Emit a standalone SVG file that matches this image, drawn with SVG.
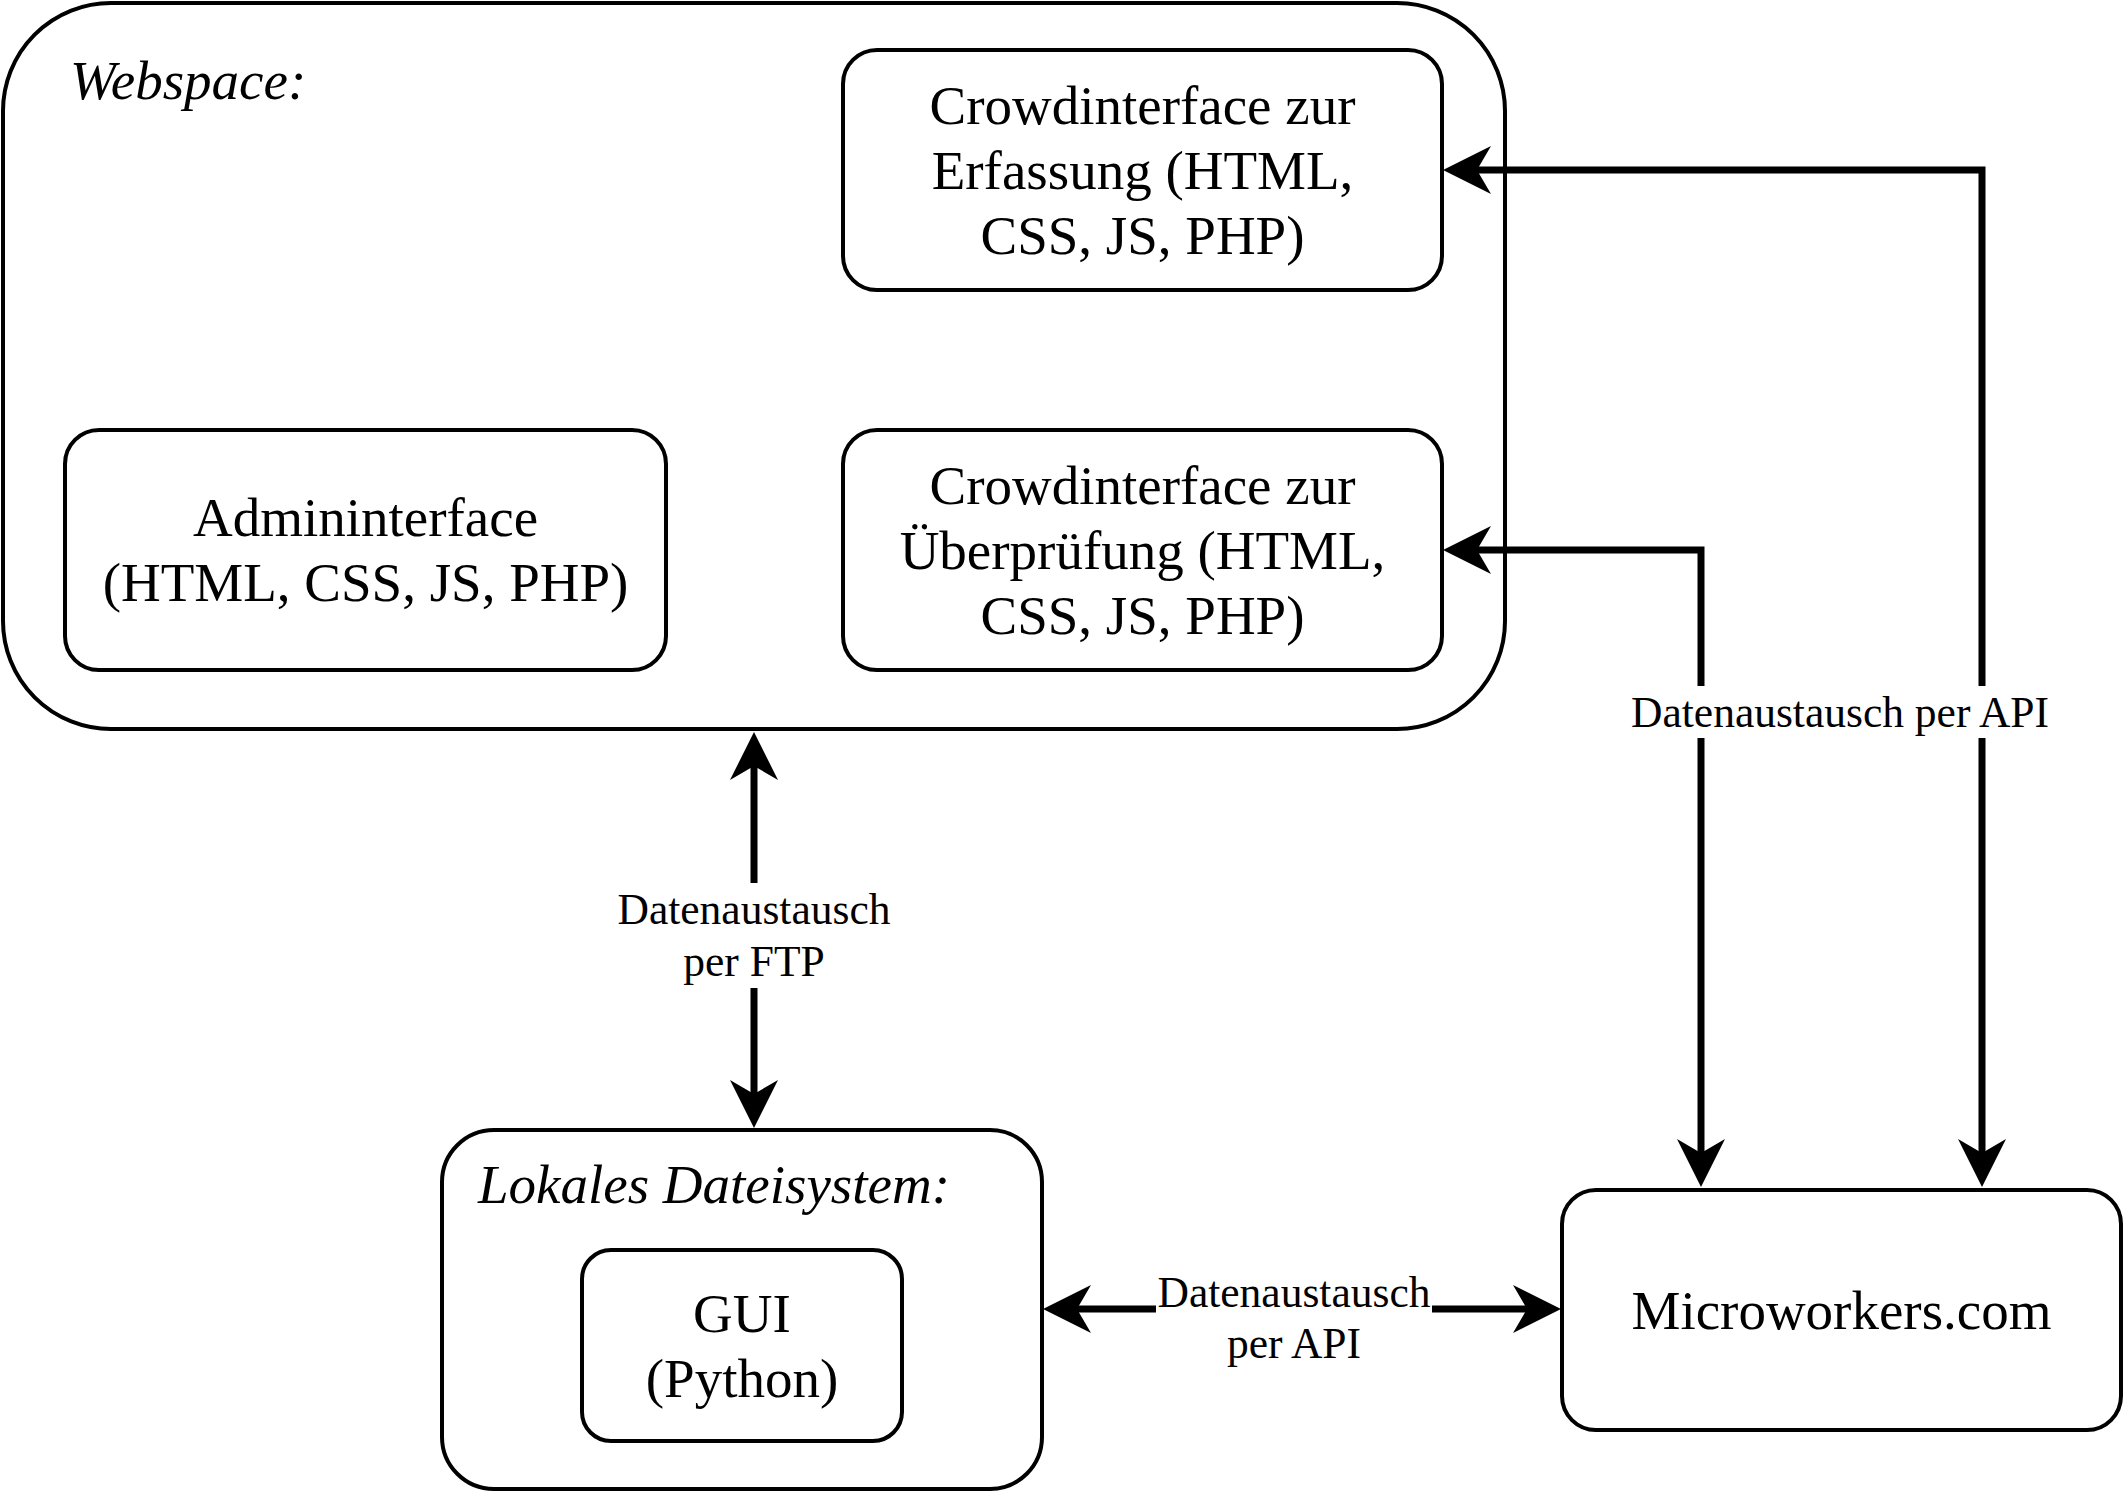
<svg xmlns="http://www.w3.org/2000/svg" width="2124" height="1492" viewBox="0 0 2124 1492">
<style>
.box{fill:#ffffff;stroke:#000000;stroke-width:4}
.t{font-family:"Liberation Serif","Times New Roman",serif;font-size:55px;fill:#000000;text-anchor:middle}
.ti{font-family:"Liberation Serif","Times New Roman",serif;font-size:55px;font-style:italic;fill:#000000}
.lbl{font-family:"Liberation Serif","Times New Roman",serif;font-size:43.5px;fill:#000000;text-anchor:middle}
.con{fill:none;stroke:#000000;stroke-width:7;marker-start:url(#arr);marker-end:url(#arr)}
.bg{fill:#ffffff;stroke:none}
</style>
<defs>
<marker id="arr" markerUnits="userSpaceOnUse" viewBox="-50 -26 52 52" markerWidth="52" markerHeight="52" refX="-34" refY="0" orient="auto-start-reverse">
<path d="M0,0 L-48,-24 L-34,0 L-48,24 Z" fill="#000000"/>
</marker>
</defs>
<rect x="0" y="0" width="2124" height="1492" fill="#ffffff"/>
<g id="webspace">
<rect class="box" x="3" y="3" width="1502" height="726" rx="108" ry="108"/>
<text class="ti" x="70" y="99">Webspace:</text>
</g>
<g id="crowd-erfassung">
<rect class="box" x="843" y="50" width="599" height="240" rx="34" ry="34"/>
<text class="t" x="1142.5" y="124">Crowdinterface zur</text>
<text class="t" x="1142.5" y="189">Erfassung (HTML,</text>
<text class="t" x="1142.5" y="254">CSS, JS, PHP)</text>
</g>
<g id="admininterface">
<rect class="box" x="65" y="430" width="601" height="240" rx="34" ry="34"/>
<text class="t" x="365.5" y="536">Admininterface</text>
<text class="t" x="365.5" y="601">(HTML, CSS, JS, PHP)</text>
</g>
<g id="crowd-ueberpruefung">
<rect class="box" x="843" y="430" width="599" height="240" rx="34" ry="34"/>
<text class="t" x="1142.5" y="504">Crowdinterface zur</text>
<text class="t" x="1142.5" y="569">Überprüfung (HTML,</text>
<text class="t" x="1142.5" y="634">CSS, JS, PHP)</text>
</g>
<g id="lokales-dateisystem">
<rect class="box" x="442" y="1130" width="600" height="359" rx="52" ry="52"/>
<text class="ti" x="478" y="1203">Lokales Dateisystem:</text>
</g>
<g id="gui">
<rect class="box" x="582" y="1250" width="320" height="191" rx="29" ry="29"/>
<text class="t" x="742" y="1332">GUI</text>
<text class="t" x="742" y="1397">(Python)</text>
</g>
<g id="microworkers">
<rect class="box" x="1562" y="1190" width="559" height="240" rx="34" ry="34"/>
<text class="t" x="1841.5" y="1329">Microworkers.com</text>
</g>
<g id="connectors">
<path class="con" d="M754,766 L754,1094"/>
<path class="con" d="M1077,1309 L1527,1309"/>
<path class="con" d="M1982,1153 L1982,170 L1477,170"/>
<path class="con" d="M1701,1153 L1701,550 L1477,550"/>
<rect class="bg" x="617" y="883" width="274" height="105"/>
<text class="lbl" x="754" y="924">Datenaustausch</text>
<text class="lbl" x="754" y="976">per FTP</text>
<rect class="bg" x="1156" y="1266" width="276" height="104"/>
<text class="lbl" x="1294" y="1307">Datenaustausch</text>
<text class="lbl" x="1294" y="1358">per API</text>
<rect class="bg" x="1629" y="686" width="422" height="52"/>
<text class="lbl" x="1840" y="727">Datenaustausch per API</text>
</g>
</svg>
